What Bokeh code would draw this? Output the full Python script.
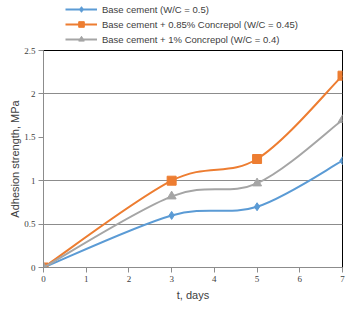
import numpy as np
from bokeh.plotting import figure
from bokeh.layouts import column
from bokeh.models import Legend, LegendItem, Range1d, FixedTicker
from bokeh.embed import file_html
from bokeh.resources import INLINE

days = [0, 3, 5, 7]
base = [0, 0.60, 0.70, 1.23]
conc085 = [0, 1.00, 1.25, 2.21]
conc1 = [0, 0.82, 0.97, 1.70]
labels = ["Base cement (W/C = 0.5)",
          "Base cement + 0.85% Concrepol (W/C = 0.45)",
          "Base cement + 1% Concrepol (W/C = 0.4)"]
colors = ["#5B9BD5", "#ED7D31", "#A5A5A5"]
markers = ["diamond", "square", "triangle"]
x_ticks = [0, 1, 2, 3, 4, 5, 6, 7]
y_ticks = [0, 0.5, 1, 1.5, 2, 2.5]
grid_values = [0.5, 1, 2]

# ---- legend strip (top) ----
top = figure(width=351, height=46, output_backend="svg", toolbar_location=None,
             x_axis_location=None, y_axis_location=None,
             x_range=Range1d(0, 1), y_range=Range1d(0, 1),
             min_border_left=0, min_border_right=0, min_border_top=0, min_border_bottom=0)
top.outline_line_color = None
top.xgrid.visible = False
top.ygrid.visible = False
top.background_fill_color = "white"
top.border_fill_color = "white"

# ---- main chart ----
p = figure(width=351, height=264, output_backend="svg", toolbar_location=None,
           x_range=Range1d(0, 7), y_range=Range1d(0, 2.5),
           min_border_left=43, min_border_right=9, min_border_top=4, min_border_bottom=43)
p.background_fill_color = "white"
p.border_fill_color = "white"
p.outline_line_color = "black"
p.outline_line_width = 1
p.xgrid.visible = False
p.ygrid.ticker = FixedTicker(ticks=grid_values)
p.ygrid.grid_line_color = "#8C8C8C"
p.ygrid.grid_line_width = 1

for ax in (p.xaxis[0], p.yaxis[0]):
    ax.axis_line_color = "#8C8C8C"
    ax.major_tick_line_color = "#8C8C8C"
    ax.minor_tick_line_color = None
    ax.major_tick_in = 0
    ax.major_tick_out = 5
    ax.major_label_text_font = "Liberation Serif"
    ax.major_label_text_font_size = "9px"
    ax.major_label_text_color = "#404040"
    ax.axis_label_text_font = "Liberation Sans"
    ax.axis_label_text_font_size = "11px"
    ax.axis_label_text_font_style = "normal"
    ax.axis_label_text_color = "#404040"
p.xaxis.ticker = FixedTicker(ticks=x_ticks)
p.yaxis.ticker = FixedTicker(ticks=y_ticks)
p.yaxis.major_label_overrides = {0: "0", 0.5: "0.5", 1: "1", 1.5: "1.5", 2: "2", 2.5: "2.5"}
p.xaxis.axis_label = "t, days"
p.yaxis.axis_label = "Adhesion strength, MPa"
p.xaxis.major_label_standoff = 3
p.yaxis.major_label_standoff = 3
p.xaxis.axis_label_standoff = 4
p.yaxis.axis_label_standoff = 0


def smooth(xs, ys):
    n = len(xs)
    out = dict(x0=[], y0=[], x1=[], y1=[], cx0=[], cy0=[], cx1=[], cy1=[])
    for i in range(n - 1):
        i0 = max(i - 1, 0)
        i3 = min(i + 2, n - 1)
        out["x0"].append(xs[i]); out["y0"].append(ys[i])
        out["x1"].append(xs[i + 1]); out["y1"].append(ys[i + 1])
        out["cx0"].append(xs[i] + (xs[i + 1] - xs[i0]) / 6)
        out["cy0"].append(ys[i] + (ys[i + 1] - ys[i0]) / 6)
        out["cx1"].append(xs[i + 1] - (xs[i3] - xs[i]) / 6)
        out["cy1"].append(ys[i + 1] - (ys[i3] - ys[i]) / 6)
    return out

empty = np.array([np.nan])
leg_items = []
for ys, c, m, lab, sz in zip([base, conc085, conc1], colors, markers, labels, [8, 9, 9]):
    seg = smooth(days, ys)
    p.bezier(line_color=c, line_width=2, **seg)
    p.scatter(days, ys, marker=m, size=sz, fill_color=c, line_color=c)
    rl = top.line(empty, empty, line_color=c, line_width=2)
    rm = top.scatter(empty, empty, marker=m, size=sz - 1, fill_color=c, line_color=c)
    leg_items.append(LegendItem(label=lab, renderers=[rl, rm]))

legend = Legend(items=leg_items, location=(22, 0), orientation="vertical",
                glyph_width=32, glyph_height=14, label_height=14, spacing=1,
                padding=0, margin=0, label_standoff=5,
                label_text_font="Liberation Sans", label_text_font_size="9.5px",
                label_text_color="#404040", border_line_color=None,
                background_fill_alpha=0)
top.add_layout(legend)

layout = column(top, p, spacing=0)
open("out.html", "w").write(file_html(layout, INLINE))
